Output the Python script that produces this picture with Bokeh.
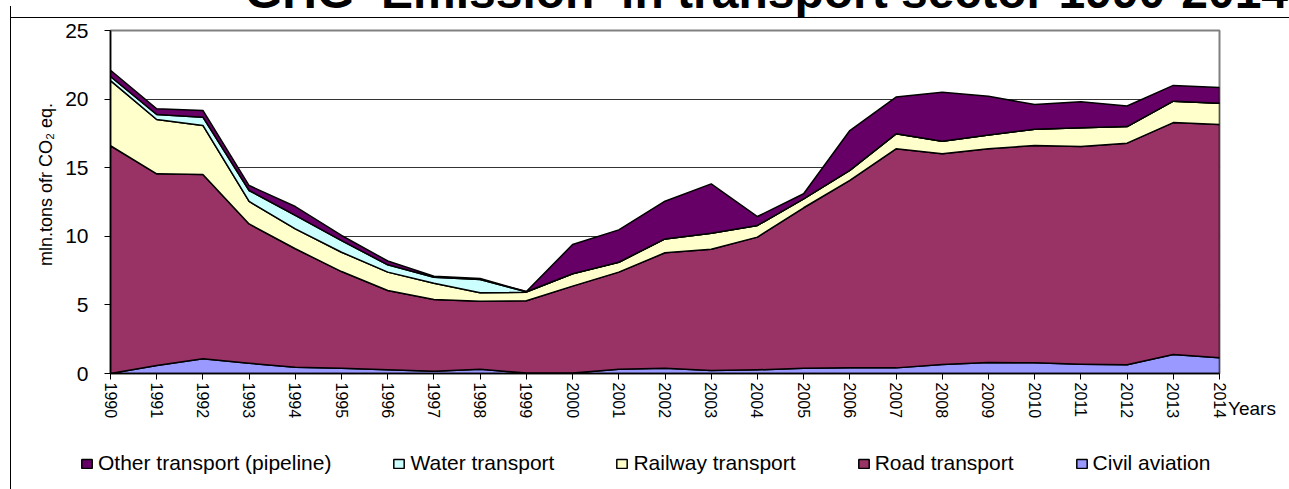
from bokeh.plotting import figure
from bokeh.models import Range1d, FixedTicker, Legend, LegendItem, Div
from bokeh.embed import file_html
from bokeh.resources import INLINE

# ---------------- data (mln. tons of CO2 eq.) ----------------
years = list(range(1990, 2015))
year_labels = [str(y) for y in years]
civil_aviation = [0.00, 0.58, 1.07, 0.75, 0.46, 0.39, 0.27, 0.17, 0.31, 0.03,
                  0.03, 0.31, 0.39, 0.22, 0.27, 0.39, 0.41, 0.41, 0.66, 0.80,
                  0.78, 0.68, 0.63, 1.38, 1.14]
road_transport = [16.60, 13.97, 13.43, 10.15, 8.63, 7.04, 5.78, 5.22, 4.96, 5.27,
                  6.34, 7.08, 8.41, 8.84, 9.67, 11.69, 13.66, 15.97, 15.35, 15.58,
                  15.84, 15.87, 16.16, 16.91, 17.01]
railway_transport = [4.75, 3.96, 3.58, 1.64, 1.45, 1.41, 1.34, 1.19, 0.61, 0.63,
                     0.90, 0.72, 1.01, 1.17, 0.85, 0.65, 0.73, 1.09, 0.92, 1.01,
                     1.19, 1.36, 1.21, 1.56, 1.55]
water_transport = [0.30, 0.37, 0.60, 0.80, 0.98, 0.85, 0.53, 0.44, 0.97, 0.03,
                   0.00, 0.00, 0.00, 0.00, 0.00, 0.00, 0.00, 0.00, 0.00, 0.00,
                   0.00, 0.00, 0.00, 0.00, 0.00]
other_transport = [0.45, 0.41, 0.49, 0.36, 0.65, 0.37, 0.28, 0.07, 0.07, 0.01,
                   2.13, 2.36, 2.75, 3.59, 0.65, 0.37, 2.91, 2.68, 3.57, 2.81,
                   1.79, 1.89, 1.50, 1.15, 1.15]
series_names = ["Civil aviation", "Road transport", "Railway transport",
                "Water transport", "Other transport (pipeline)"]
series_values = [civil_aviation, road_transport, railway_transport,
                 water_transport, other_transport]
series_colors = ["#9999FF", "#993366", "#FFFFCC", "#CCFFFF", "#660066"]
y_ticks = [0, 5, 10, 15, 20, 25]
title_text = "GHG&nbsp;&nbsp;Emission&nbsp;&nbsp;in transport sector 1990-2014"
y_title = "\u00a0" * 7 + "mln.tons ofr CO\u2082 eq."
x_title = "Years"

# ---------------- layout ----------------
W, H = 1289, 489
FL, FR, FT, FB = 110, 1219, 30, 373
FONT = "Liberation Sans"

p = figure(width=W, height=H, output_backend="svg", toolbar_location=None,
           title=None,
           x_range=Range1d(years[0], years[-1]), y_range=Range1d(0, 25),
           min_border_left=FL, min_border_right=W - FR,
           min_border_top=FT, min_border_bottom=H - FB,
           background_fill_color="white", border_fill_color="white",
           margin=0,
           styles={"position": "absolute", "left": "0px", "top": "0px"})

# stacked areas
stack_polys = []
base = [0.0] * len(years)
for name, vals, col in zip(series_names, series_values, series_colors):
    top = [b + v for b, v in zip(base, vals)]
    xs = years + years[::-1]
    ys = top + base[::-1]
    p.patch(xs, ys, fill_color=col, line_color="black", line_width=1.5,
            line_join="round")
    stack_polys.append((name, col, xs, ys))
    base = top

# axes
p.xaxis.ticker = FixedTicker(ticks=years)
p.xaxis.major_label_overrides = {y: s for y, s in zip(years, year_labels)}
p.xaxis.major_label_orientation = "vertical"
p.xaxis.major_label_text_font = FONT
p.xaxis.major_label_text_font_size = "16px"
p.xaxis.major_label_standoff = 3

p.yaxis.ticker = FixedTicker(ticks=y_ticks)
p.yaxis.major_label_text_font = FONT
p.yaxis.major_label_text_font_size = "21px"
p.yaxis.major_label_standoff = 16
p.yaxis.axis_label = y_title
p.yaxis.axis_label_text_font = FONT
p.yaxis.axis_label_text_font_size = "18px"
p.yaxis.axis_label_text_font_style = "normal"
p.yaxis.axis_label_standoff = 6
for ax in (p.xaxis, p.yaxis):
    ax.major_label_text_color = "black"
    ax.axis_label_text_color = "black"
    ax.axis_line_color = "black"
    ax.axis_line_width = 1.5
    ax.major_tick_line_color = "black"
    ax.major_tick_out = 6
    ax.major_tick_in = 0
    ax.minor_tick_line_color = None

p.xgrid.grid_line_color = None
p.ygrid.ticker = FixedTicker(ticks=y_ticks)
p.ygrid.grid_line_color = "#333333"
p.ygrid.grid_line_width = 1
p.outline_line_color = "#808080"
p.outline_line_width = 2

# ---------------- legend strip (separate canvas below the axis) ----------------
LG_TOP, LG_H = 445, 36
lg = figure(width=W, height=LG_H, output_backend="svg", toolbar_location=None,
            title=None, x_range=Range1d(0, 1), y_range=Range1d(0, 1),
            min_border=0, outline_line_color=None, margin=0,
            background_fill_alpha=0, border_fill_alpha=0,
            styles={"position": "absolute", "left": "0px", "top": f"{LG_TOP}px"})
lg.axis.visible = False
lg.grid.visible = False
items = []
for name, col, xs, ys in stack_polys[::-1]:
    # same series polygons; they lie outside this strip's ranges, only the key shows
    r = lg.patch(xs, ys, fill_color=col, line_color="black", line_width=1.5)
    items.append(LegendItem(label=name, renderers=[r]))
legend = Legend(items=items, location=(80, 6), orientation="horizontal",
                padding=0, margin=0, border_line_color=None,
                background_fill_alpha=0, glyph_width=13, glyph_height=11,
                label_standoff=5, spacing=61, label_text_font=FONT,
                label_text_font_size="21px", label_height=20,
                label_text_color="black")
lg.add_layout(legend, "center")

# ---------------- title, axis title and outer frame lines ----------------
title_div = Div(text=('<span style="display:block;white-space:nowrap;'
                      'font-family:\'Liberation Sans\';font-weight:bold;'
                      'font-size:48px;line-height:48px;color:black;">'
                      + title_text + '</span>'), margin=0,
                styles={"position": "absolute", "left": "245px", "top": "-32px",
                        "white-space": "nowrap"})
years_div = Div(text=('<span style="display:block;white-space:nowrap;'
                      'font-family:\'Liberation Sans\';font-size:19px;'
                      'line-height:19px;color:black;">' + x_title + '</span>'),
                margin=0,
                styles={"position": "absolute", "left": "1228px", "top": "399px"})
top_line = Div(text='<div style="width:1279px;height:1px;background:black;"></div>',
               margin=0, styles={"position": "absolute", "left": "10px", "top": "6px"})
left_line = Div(text='<div style="width:1px;height:483px;background:black;"></div>',
                margin=0, styles={"position": "absolute", "left": "10px", "top": "6px"})

open("out.html", "w").write(
    file_html([p, lg, top_line, left_line, years_div, title_div], INLINE))
